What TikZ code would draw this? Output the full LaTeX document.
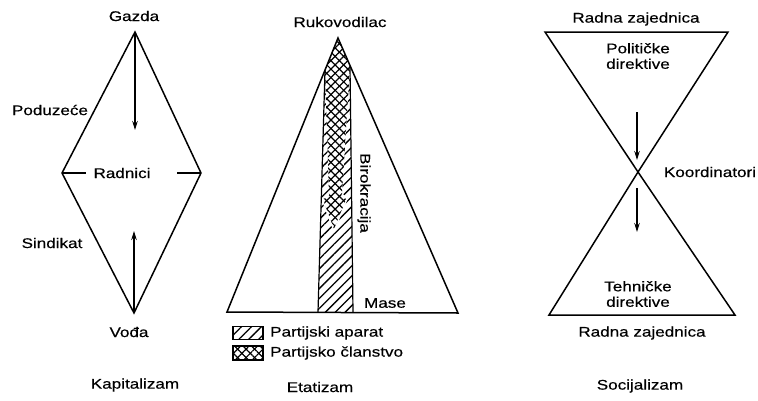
\documentclass[tikz,border=0pt]{standalone}
\usepackage{fontspec}
\setmainfont[FakeStretch=1.22,FakeBold=0.4]{Liberation Sans}
\usetikzlibrary{arrows.meta,patterns.meta}
\begin{document}
\begin{tikzpicture}[x=1pt,y=-1pt,
  edge/.style={line width=1.5pt,line join=miter},
  arr/.style={line width=1.3pt,-{Stealth[length=9pt,width=5.5pt]}},
  lbl/.style={font=\fontsize{14}{15.5}\selectfont,inner sep=0pt,align=center},
  hatch/.style={pattern={Lines[angle=45,distance=7pt,line width=1.3pt]}},
  xha/.style={pattern={Lines[angle=45,distance=6pt,line width=1.2pt]}},
  xhb/.style={pattern={Lines[angle=-45,distance=6pt,line width=1.2pt]}},
]
\useasboundingbox (0,0) rectangle (758,400);

% ---------- Kapitalizam ----------
\coordinate (gT) at (135,32);
\coordinate (gR) at (201,173);
\coordinate (gB) at (134,313);
\coordinate (gL) at (62,173);
\coordinate (dL) at (86,173);
\coordinate (dR) at (177,173);
\coordinate (aDown) at (135,130);
\coordinate (aUp) at (134,231);
\draw[edge] (gT) -- (gR) -- (gB) -- (gL) -- cycle;
\draw[line width=1.2pt] (gL) -- (dL);
\draw[line width=1.2pt] (dR) -- (gR);
\draw[arr] (gT) -- (aDown);
\draw[arr] (gB) -- (aUp);
\node[lbl] (gazda) at (134,16) {Gazda};
\node[lbl] (poduzece) at (50,110) {Poduzeće};
\node[lbl] (radnici) at (122,173) {Radnici};
\node[lbl] (sindikat) at (52,243) {Sindikat};
\node[lbl] (voda) at (129,332) {Vođa};
\node[lbl] (kapitalizam) at (135,385) {Kapitalizam};

% ---------- Etatizam ----------
\coordinate (tA) at (338,38);
\coordinate (tL) at (227,312);
\coordinate (tR) at (458,313);
\coordinate (cTL) at (325,70);
\coordinate (cTR) at (350,66);
\coordinate (cBL) at (318,312);
\coordinate (cBR) at (353,312);
\fill[hatch] (cTL) -- (cBL) -- (cBR) -- (cTR) -- cycle;
\path[fill=white] (tA) -- (cTL) -- (329,194) -- (322,199) -- (334,231) -- (347,199) -- (342,194) -- (cTR) -- cycle;
\path[xha] (tA) -- (cTL) -- (329,194) -- (322,199) -- (334,231) -- (347,199) -- (342,194) -- (cTR) -- cycle;
\path[xhb] (tA) -- (cTL) -- (329,194) -- (322,199) -- (334,231) -- (347,199) -- (342,194) -- (cTR) -- cycle;
\draw[white,line width=1.2pt] (329,194) -- (322,199) -- (334,231) -- (347,199) -- (342,194);
\draw[line width=1.2pt] (cTL) -- (cBL);
\draw[line width=1.2pt] (cTR) -- (cBR);
\draw[edge] (tA) -- (tR) -- (tL) -- cycle;
\node[lbl] (ruk) at (340,22) {Rukovodilac};
\node[lbl,rotate=-90] (biro) at (364,193) {Birokracija};
\node[lbl] (mase) at (385,303) {Mase};
\node[draw,line width=1.2pt,hatch,minimum width=30pt,minimum height=13pt,inner sep=0pt] (lg1) at (248,333) {};
\node[draw,line width=1.2pt,minimum width=30pt,minimum height=13pt,inner sep=0pt] (lg2) at (248,353) {};
\path[xha] (lg2.south west) rectangle (lg2.north east);
\path[xhb] (lg2.south west) rectangle (lg2.north east);
\draw[line width=1.2pt] (lg2.south west) rectangle (lg2.north east);
\node[lbl,anchor=west] (pa) at (270,333) {Partijski aparat};
\node[lbl,anchor=west] (pc) at (270,353) {Partijsko članstvo};
\node[lbl] (etat) at (320,387) {Etatizam};

% ---------- Socijalizam ----------
\coordinate (hTL) at (545,32);
\coordinate (hTR) at (728,32);
\coordinate (hX) at (638,172);
\coordinate (hBL) at (549,315);
\coordinate (hBR) at (735,315);
\draw[edge] (hTL) -- (hTR) -- (hX) -- cycle;
\draw[edge] (hX) -- (hBR) -- (hBL) -- cycle;
\coordinate (a1s) at (637,112);
\coordinate (a1e) at (637,160);
\coordinate (a2s) at (637,188);
\coordinate (a2e) at (637,232);
\draw[arr] (a1s) -- (a1e);
\draw[arr] (a2s) -- (a2e);
\node[lbl] (rz1) at (636,19) {Radna zajednica};
\node[lbl] (pol) at (638,56) {Političke\\direktive};
\node[lbl] (koord) at (710,172) {Koordinatori};
\node[lbl] (teh) at (638,294) {Tehničke\\direktive};
\node[lbl] (rz2) at (642,333) {Radna zajednica};
\node[lbl] (soc) at (640,386) {Socijalizam};
\end{tikzpicture}
\end{document}
